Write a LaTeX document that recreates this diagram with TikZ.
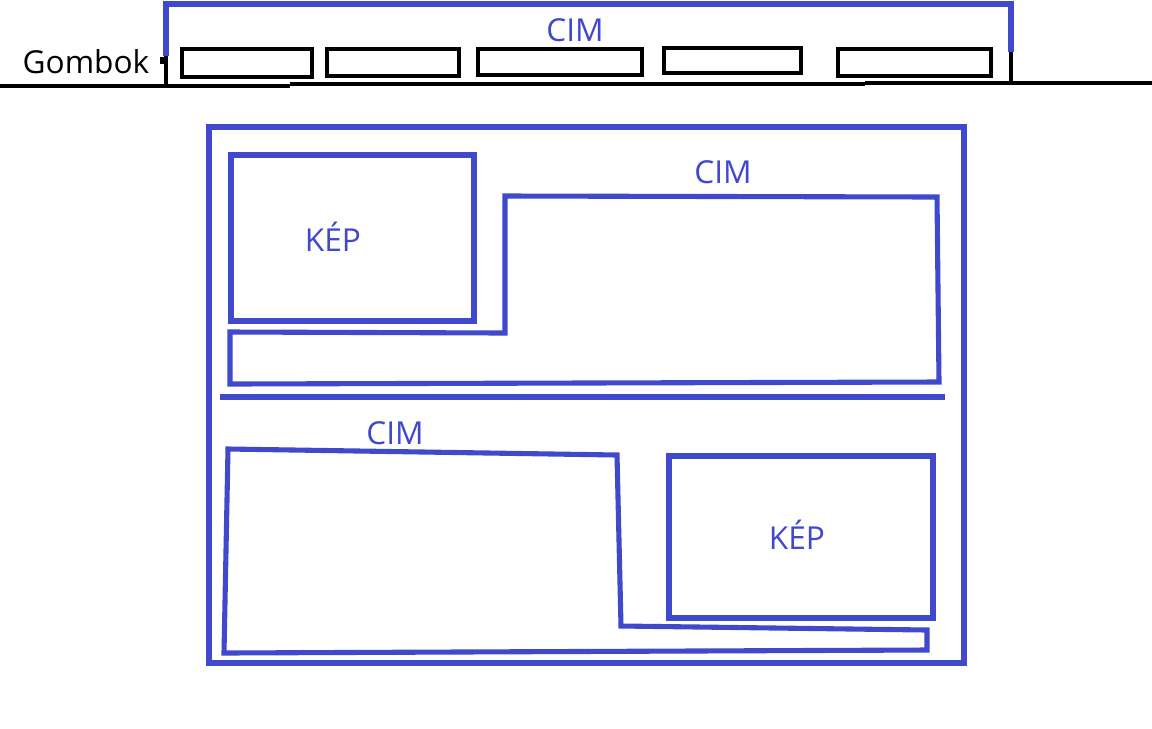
\documentclass[tikz,border=0pt]{standalone}
\usepackage{fontspec}
\setmainfont{Open Sans}
\definecolor{vonal}{RGB}{64,72,204}
\tikzset{kek/.style={line width=2.9pt,color=vonal},
  fekete/.style={line width=2.7pt,black},
  felirat/.style={font=\fontsize{18}{20}\selectfont,text=vonal}}

\begin{document}
\begin{tikzpicture}[x=0.02cm,y=-0.02cm]
\useasboundingbox (0,0) rectangle (1152,728);

% fejlec
\draw[fekete] (0,86) -- (290,86) (290,84) -- (865,84) (865,83) -- (1152,83);
\draw[kek]
  (166,56) coordinate (A) --
  (166,4) --
  (1011,4) --
  (1011,52) coordinate (B);
\draw[fekete] (A) -- (166,85);
\draw[fekete] (B) -- (1011,83);
\draw[fekete] (162,57) -- (162,64);

\foreach \xa/\ya/\xb/\yb [count=\i] in {182/49/312/77,327/49/459/76,478/49/642/75,664/48/801/73,838/49/991/76}
  \draw[fekete] (\xa,\ya) coordinate (g\i) rectangle (\xb,\yb);

\node[felirat,text=black] (gombok) at (86,62) {Gombok};
\node[felirat] (cim) at (575,30) {CIM};

% tartalom
\draw[kek] (209,127) rectangle (964,663);
\draw[kek] (231,155) coordinate (K1) rectangle (474,321);
\draw[kek]
  (230,384) coordinate (C) --
  (230,332) --
  (505,333) --
  (505,196) coordinate (D) --
  (937,197) --
  (939,382) --
  cycle;
\draw[kek] (220,397) coordinate (E) -- (945,397) coordinate (F);
\draw[kek]
  (228,449) coordinate (G) --
  (617,455) --
  (621,626) --
  (927,630) --
  (927,650) --
  (224,653) --
  cycle;
\draw[kek] (669,456) coordinate (K2) rectangle (933,618);

\node[felirat] (kep1) at (333,237) {KÉP};
\node[felirat] (cim1) at (723,172) {CIM};
\node[felirat] (cim2) at (395,433) {CIM};
\node[felirat] (kep2) at (797,535) {KÉP};
\end{tikzpicture}
\end{document}
